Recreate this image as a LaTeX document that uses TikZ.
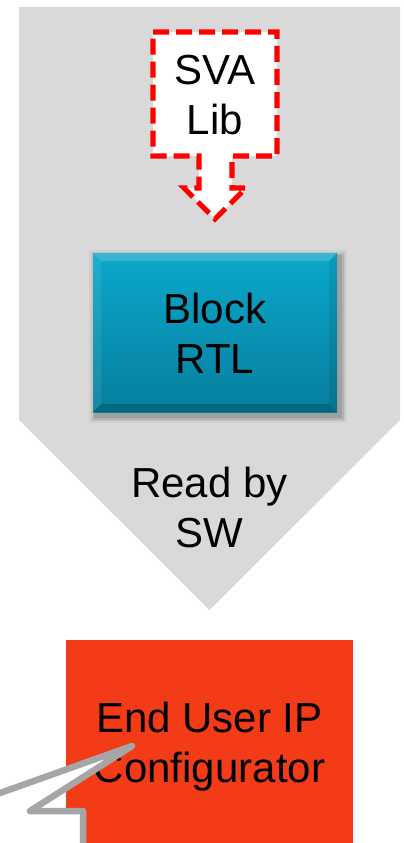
\documentclass[tikz,border=0pt]{standalone}
\usepackage{fontspec}
\setmainfont{Liberation Sans}
\definecolor{chevgray}{HTML}{D9D9D9}
\definecolor{svared}{HTML}{FF0000}
\definecolor{rtltop}{HTML}{0BA8CB}
\definecolor{rtlbot}{HTML}{067E9E}
\definecolor{cfgorange}{HTML}{F43B17}
\definecolor{calloutgray}{HTML}{A6A6A6}
\begin{document}
\begin{tikzpicture}[x=1pt,y=-1pt,
  lbl/.style={font=\fontsize{42}{50}\selectfont, align=center, text=black, inner sep=0pt},
  svabox/.style={draw=svared, fill=white, line width=5.2pt, dash pattern=on 16pt off 7pt, line join=miter},
  calloutline/.style={draw=calloutgray, fill=white, line width=6.5pt, line join=round, line cap=round}]
\useasboundingbox (0,0) rectangle (404,843);

% grey chevron pointing down
\fill[chevgray] (19,7) -- (400,7) -- (400,420) -- (209.5,610) -- (19,420) -- cycle;

% SVA library callout with a down arrow
\path[svabox] (153,32) -- (277,32) -- (277,156) -- (232,156) -- (232,188) -- (246,188)
  -- (215,219) -- (184,188) -- (199,188) -- (199,156) -- (153,156) -- cycle;
\node[lbl] (sva) at (215,95) {SVA\\Lib};

% Block RTL: soft shadow, gradient face and bevelled rim
\foreach \d/\o in {7/0.04,5/0.06,3.5/0.08,2/0.10}
  \fill[black,opacity=\o] (93-\d+3,253-\d+4) rectangle (337+\d+3,412+\d+4);
\shade[top color=rtltop, bottom color=rtlbot] (93,253) rectangle (337,412);
\fill[white,opacity=0.18] (93,253) -- (337,253) -- (329,261) -- (101,261) -- cycle;
\fill[white,opacity=0.08] (93,253) -- (101,261) -- (101,404) -- (93,412) -- cycle;
\fill[black,opacity=0.08] (337,253) -- (329,261) -- (329,404) -- (337,412) -- cycle;
\fill[black,opacity=0.18] (93,412) -- (101,404) -- (329,404) -- (337,412) -- cycle;
\node[lbl] (rtl) at (215,333) {Block\\RTL};

\node[lbl] (read) at (209.5,507) {Read by\\SW};

% configurator box
\fill[cfgorange] (66,640) rectangle (353,850);
\node[lbl] (cfg) at (209.5,747) {End User IP\\Configurator};

% grey speech-bubble pointer reaching into the configurator
\path[calloutline] (-10,796.6) -- (132,746) -- (30,811) -- (83,811) -- (83,860) -- (-10,860) -- cycle;
\end{tikzpicture}
\end{document}
